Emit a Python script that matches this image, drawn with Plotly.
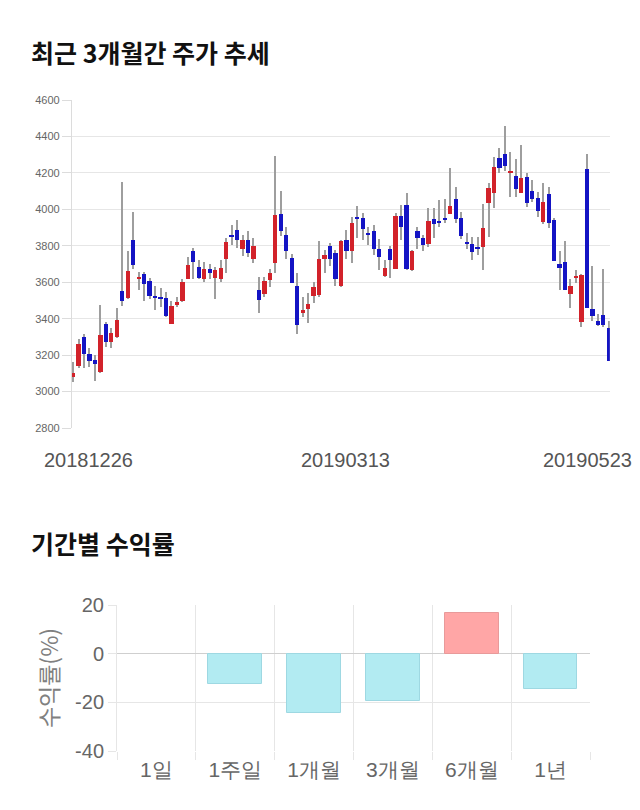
import plotly.graph_objects as go

# ---------------- data ----------------
opens = [3080, 3140, 3300, 3205, 3175, 3105, 3370, 3270, 3300, 3550,
         3515, 3830, 3615, 3645, 3605, 3525, 3520, 3515, 3370, 3475,
         3495, 3620, 3770, 3685, 3620, 3670, 3625, 3620, 3725, 3860,
         3885, 3780, 3830, 3730, 3560, 3535, 3610, 3705, 3975, 3860,
         3735, 3580, 3430, 3455, 3525, 3530, 3725, 3800, 3760, 3580,
         3830, 3770, 3960, 3950, 3870, 3880, 3780, 3635, 3780, 3675,
         3965, 4025, 3665, 3880, 3840, 3810, 3945, 3938, 3952, 3975,
         4055, 3955, 3822, 3810, 3793, 3795, 4035, 4090, 4280, 4305,
         4203, 4185, 4090, 4175, 4100, 4060, 3930, 4085, 3940, 3700,
         3710, 3535, 3622, 3380, 4220, 3455, 3385, 3420, 3350]
highs = [3160, 3290, 3315, 3240, 3200, 3475, 3380, 3350, 3460, 4150,
         3770, 3985, 3655, 3655, 3625, 3580, 3570, 3545, 3495, 3520,
         3620, 3740, 3790, 3720, 3710, 3700, 3685, 3720, 3845, 3915,
         3940, 3860, 3880, 3840, 3630, 3630, 3670, 4290, 4100, 3905,
         3755, 3650, 3520, 3540, 3600, 3825, 3775, 3815, 3775, 3830,
         3885, 3960, 4020, 3980, 3905, 3915, 3835, 3720, 3800, 3980,
         4025, 4090, 3775, 3905, 3860, 4010, 4010, 4050, 4055, 4225,
         4120, 3985, 3870, 3850, 3850, 4030, 4145, 4285, 4335, 4460,
         4315, 4275, 4355, 4200, 4160, 4095, 4145, 4125, 3955, 3770,
         3825, 3615, 3665, 3645, 4305, 3690, 3425, 3670, 3385]
lows = [3050, 3130, 3130, 3135, 3060, 3100, 3245, 3240, 3295, 3470,
        3510, 3675, 3560, 3495, 3510, 3450, 3465, 3410, 3370, 3465,
        3490, 3615, 3620, 3620, 3600, 3620, 3510, 3600, 3650, 3805,
        3790, 3745, 3740, 3705, 3430, 3520, 3575, 3650, 3855, 3730,
        3595, 3315, 3410, 3375, 3485, 3520, 3650, 3690, 3580, 3575,
        3725, 3705, 3840, 3830, 3805, 3750, 3665, 3630, 3625, 3675,
        3830, 3665, 3660, 3780, 3770, 3795, 3845, 3905, 3925, 3975,
        3925, 3835, 3780, 3720, 3750, 3665, 3850, 4005, 4200, 4210,
        4070, 4065, 4090, 4015, 4040, 3960, 3920, 3900, 3715, 3555,
        3560, 3460, 3595, 3355, 3460, 3385, 3360, 3355, 3165]
closes = [3100, 3260, 3205, 3170, 3150, 3310, 3270, 3320, 3395, 3495,
          3660, 3695, 3630, 3590, 3525, 3515, 3510, 3415, 3470, 3490,
          3600, 3695, 3710, 3625, 3670, 3650, 3665, 3680, 3820, 3853,
          3830, 3830, 3760, 3800, 3505, 3605, 3650, 3970, 3880, 3770,
          3595, 3365, 3450, 3480, 3575, 3725, 3750, 3730, 3615, 3825,
          3770, 3925, 3950, 3890, 3860, 3780, 3740, 3680, 3720, 3965,
          3905, 3675, 3770, 3840, 3805, 3935, 3920, 3930, 3940, 4020,
          3945, 3855, 3810, 3765, 3787, 3895, 4115, 4230, 4225, 4240,
          4212, 4110, 4170, 4035, 4055, 3990, 4040, 3925, 3715, 3680,
          3560, 3580, 3635, 3640, 3460, 3415, 3365, 3365, 3165]
date_labels = ["20181226", "20190313", "20190523"]
price_ticks = [2800, 3000, 3200, 3400, 3600, 3800, 4000, 4200, 4400, 4600]

periods = ["1일", "1주일", "1개월", "3개월", "6개월", "1년"]
returns = [0.0, -12.5, -24.4, -19.6, 16.8, -14.7]
return_ticks = [-40, -20, 0, 20]
return_tick_labels = ["-40", "-20", "0", "20"]

# ---------------- figure ----------------
W, H = 640, 810
idx = list(range(len(opens)))
up = [i for i in idx if closes[i] >= opens[i]]
dn = [i for i in idx if closes[i] < opens[i]]
MINH = 6

fig = go.Figure()
# wicks
fig.add_trace(go.Bar(x=idx, base=lows, y=[h - l for h, l in zip(highs, lows)],
                     width=0.2, marker=dict(color="#9e9e9e", line=dict(width=0)),
                     xaxis="x", yaxis="y", showlegend=False, hoverinfo="skip"))
# bodies
fig.add_trace(go.Bar(x=up, base=[opens[i] for i in up],
                     y=[max(closes[i] - opens[i], MINH) for i in up],
                     width=0.78, marker=dict(color="#d2222a", line=dict(width=0)),
                     xaxis="x", yaxis="y", showlegend=False))
fig.add_trace(go.Bar(x=dn, base=[closes[i] for i in dn],
                     y=[max(opens[i] - closes[i], MINH) for i in dn],
                     width=0.78, marker=dict(color="#1414c4", line=dict(width=0)),
                     xaxis="x", yaxis="y", showlegend=False))

# returns bar chart
fig.add_trace(go.Bar(
    x=periods, y=returns, width=0.68,
    marker=dict(color=["#ffa6a6" if v > 0 else "#b2ebf2" for v in returns],
                line=dict(color=["#e89a9a" if v > 0 else "#9ed8e2" for v in returns],
                          width=[1 if v != 0 else 0 for v in returns])),
    xaxis="x2", yaxis="y2", showlegend=False))

def px(xp):
    return xp / W

def py(yp):
    return 1 - yp / H

grid = "#e6e6e6"
fig.update_layout(
    width=W, height=H, margin=dict(l=0, r=0, t=0, b=0, autoexpand=False),
    paper_bgcolor="white", plot_bgcolor="white",
    barmode="overlay", bargap=0,
    xaxis=dict(domain=[px(71.9), px(609.8)], range=[-0.2, 98.2], anchor="y",
               showgrid=False, zeroline=False, showticklabels=False, ticks="",
               automargin=False, fixedrange=True),
    yaxis=dict(domain=[py(428), py(100)], range=[2800, 4600], anchor="x",
               tickvals=price_ticks, showgrid=True, gridcolor=grid, gridwidth=1,
               zeroline=False, showline=True, linecolor="#dcdcdc", linewidth=1,
               ticks="outside", ticklen=9, tickcolor="#dcdcdc", automargin=False,
               tickfont=dict(family="Liberation Sans", size=11, color="#666666")),
    xaxis2=dict(domain=[px(117), px(590)], range=[-0.5, 5.5], anchor="y2",
                tickson="boundaries", showgrid=True, gridcolor=grid,
                ticks="outside", ticklen=8, tickcolor=grid, ticklabelstandoff=4,
                zeroline=False, showline=False, automargin=False,
                tickfont=dict(family="Liberation Sans", size=21, color="#666666")),
    yaxis2=dict(domain=[py(751), py(605)], range=[-40, 20], anchor="x2",
                tickvals=return_ticks, ticktext=return_tick_labels,
                showgrid=True, gridcolor=grid, zeroline=True, zerolinecolor="#cfcfcf",
                zerolinewidth=1, showline=True, linecolor=grid,
                ticks="outside", ticklen=8, tickcolor=grid, automargin=False,
                title=dict(text="수익률(%)", standoff=10,
                           font=dict(family="Noto Sans CJK KR", size=23, color="#808080")),
                tickfont=dict(family="Liberation Sans", size=20, color="#666666")),
)

anns = [
    dict(text="<b>최근 3개월간 주가 추세</b>", x=px(29), y=py(52), xanchor="left", yanchor="middle",
         font=dict(family="Noto Sans CJK KR", size=25, color="#111111")),
    dict(text="<b>기간별 수익률</b>", x=px(29), y=py(543), xanchor="left", yanchor="middle",
         font=dict(family="Noto Sans CJK KR", size=25, color="#111111")),
]
for lab, xc in zip(date_labels, [88, 345, 587]):
    anns.append(dict(text=lab, x=px(xc), y=py(460), xanchor="center", yanchor="middle",
                     font=dict(family="Liberation Sans", size=20, color="#555555")))
for a in anns:
    a.update(xref="paper", yref="paper", showarrow=False)
fig.update_layout(annotations=anns)

fig.write_html("out.html")
